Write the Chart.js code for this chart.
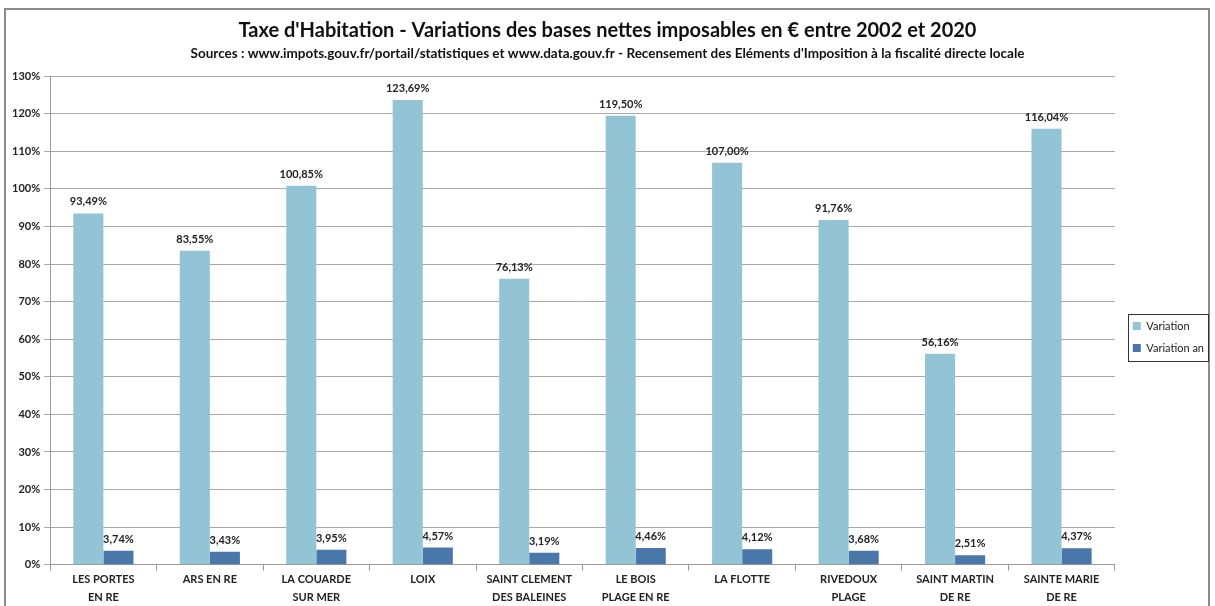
<!DOCTYPE html>
<html>
<head>
<meta charset="utf-8">
<script src="https://cdn.jsdelivr.net/npm/chart.js@4"></script>
<style>
  body { margin: 0; background: #fff; }
  #wrap { position: relative; width: 1215px; height: 606px; overflow: hidden; }
  #frame { position: absolute; left: 4px; top: 8px; width: 1206px; height: 620px; border: 2px solid #8c8c8c; box-sizing: border-box; }
  #chart { position: absolute; left: 0; top: 0; }
</style>
</head>
<body>
<div id="wrap">
  <div id="frame"></div>
  <canvas id="chart" width="1215" height="606"></canvas>
</div>
<script>
const communes = [
  ["LES PORTES", "EN RE"], ["ARS EN RE"], ["LA COUARDE", "SUR MER"], ["LOIX"],
  ["SAINT CLEMENT", "DES BALEINES"], ["LE BOIS", "PLAGE EN RE"], ["LA FLOTTE"],
  ["RIVEDOUX", "PLAGE"], ["SAINT MARTIN", "DE RE"], ["SAINTE MARIE", "DE RE"]
];
const variation = [93.49, 83.55, 100.85, 123.69, 76.13, 119.50, 107.00, 91.76, 56.16, 116.04];
const variationAn = [3.74, 3.43, 3.95, 4.57, 3.19, 4.46, 4.12, 3.68, 2.51, 4.37];
const yTicks = [0, 10, 20, 30, 40, 50, 60, 70, 80, 90, 100, 110, 120, 130];

const FONT = "Lato, 'Open Sans', sans-serif";
const frLabel = v => v.toFixed(2).replace(".", ",") + "%";

// values written above each bar
const barLabels = {
  id: "barLabels",
  afterDatasetsDraw(chart) {
    const ctx = chart.ctx;
    ctx.save();
    ctx.font = "bold 11px " + FONT;
    ctx.fillStyle = "#222";
    ctx.textAlign = "center";
    ctx.textBaseline = "bottom";
    chart.data.datasets.forEach((ds, i) => {
      chart.getDatasetMeta(i).data.forEach((bar, j) => {
        ctx.fillText(frLabel(ds.data[j]), bar.x, bar.y - 6);
      });
    });
    ctx.restore();
  }
};

// legend sits a bit lower and further right than chart.js puts it, with a box round it
const LEG_DX = 7, LEG_DY = 31;
const legendBox = {
  id: "legendBox",
  afterLayout(chart) {
    const lg = chart.legend;
    if (!lg) return;
    lg.top += LEG_DY;
    lg.bottom += LEG_DY;
    lg.left += LEG_DX;
    lg.right += LEG_DX;
    lg.legendHitBoxes.forEach(b => { b.top += LEG_DY; });
  },
  afterDraw(chart) {
    const lg = chart.legend;
    if (!lg || !lg.legendHitBoxes.length) return;
    const boxes = lg.legendHitBoxes;
    const x0 = Math.min(...boxes.map(b => b.left)) - 5;
    const y0 = Math.min(...boxes.map(b => b.top)) - 7;
    const x1 = Math.max(...boxes.map(b => b.left + b.width)) + 4;
    const y1 = Math.max(...boxes.map(b => b.top + b.height)) + 7;
    const ctx = chart.ctx;
    ctx.save();
    ctx.strokeStyle = "#333";
    ctx.lineWidth = 1;
    ctx.strokeRect(Math.round(x0) + 0.5, Math.round(y0) + 0.5, Math.round(x1 - x0), Math.round(y1 - y0));
    ctx.restore();
  }
};

new Chart(document.getElementById("chart"), {
  type: "bar",
  data: {
    labels: communes,
    datasets: [
      {
        label: "Variation",
        data: variation,
        backgroundColor: "#93c4d6",
        categoryPercentage: 0.565,
        barPercentage: 1
      },
      {
        label: "Variation an",
        data: variationAn,
        backgroundColor: "#4a77aa",
        categoryPercentage: 0.565,
        barPercentage: 1
      }
    ]
  },
  options: {
    responsive: false,
    animation: false,
    layout: { padding: { left: 8, right: 8, top: 5, bottom: -1 } },
    scales: {
      x: {
        grid: { offset: true, drawOnChartArea: false, color: "#9a9a9a", tickLength: 6 },
        border: { color: "#9a9a9a" },
        ticks: {
          color: "#222",
          font: { family: FONT, size: 11, weight: "bold", lineHeight: 1.65 },
          maxRotation: 0,
          autoSkip: false,
          padding: 0
        }
      },
      y: {
        min: 0,
        max: 130,
        afterBuildTicks: axis => { axis.ticks = yTicks.map(v => ({ value: v })); },
        grid: { color: "#a8a8a8", tickLength: 6 },
        border: { color: "#9a9a9a" },
        ticks: {
          color: "#222",
          font: { family: FONT, size: 11, weight: "bold" },
          padding: 4,
          callback: v => v + "%"
        }
      }
    },
    plugins: {
      title: {
        display: true,
        text: "Taxe d'Habitation - Variations des bases nettes imposables en € entre 2002 et 2020",
        color: "#111",
        font: { family: FONT, size: 20, weight: "bold" },
        padding: { top: 14, bottom: 3 }
      },
      subtitle: {
        display: true,
        text: "Sources : www.impots.gouv.fr/portail/statistiques et www.data.gouv.fr - Recensement des Eléments d'Imposition à la fiscalité directe locale",
        color: "#111",
        font: { family: FONT, size: 13.5, weight: "bold" },
        padding: { top: 0, bottom: 14 }
      },
      legend: {
        position: "right",
        labels: {
          boxWidth: 8,
          boxHeight: 8,
          color: "#222",
          font: { family: FONT, size: 11 },
          padding: 11
        }
      },
      tooltip: { enabled: false }
    }
  },
  plugins: [barLabels, legendBox]
});
</script>
</body>
</html>
